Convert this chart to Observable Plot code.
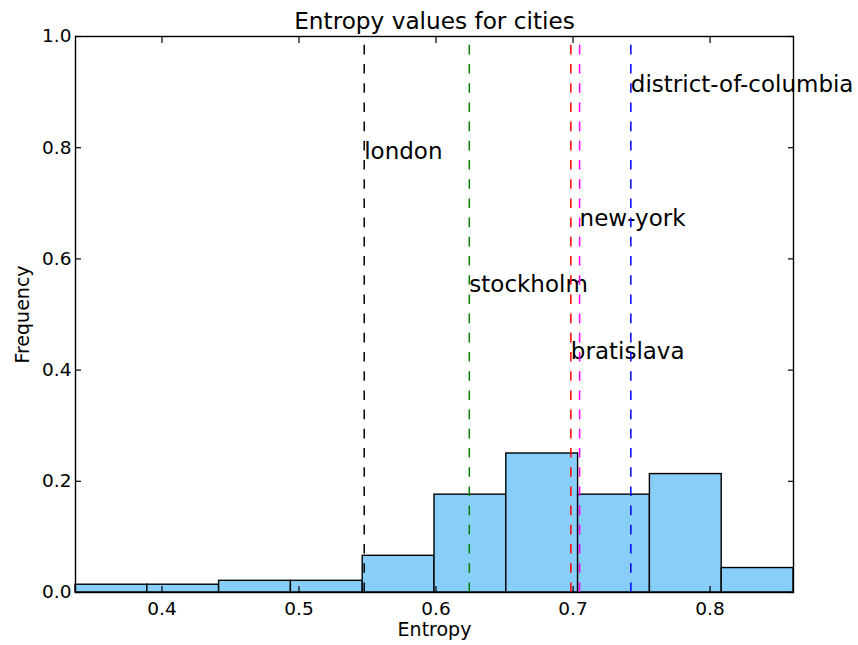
<!DOCTYPE html>
<html>
<head>
<meta charset="utf-8">
<script src="https://cdn.jsdelivr.net/npm/d3@7"></script>
<script src="https://cdn.jsdelivr.net/npm/@observablehq/plot@0.6"></script>
<style>
  html, body { margin: 0; padding: 0; background: #ffffff; }
  svg { display: block; }
</style>
</head>
<body>
<div id="chart"></div>
<script>
// Histogram of city entropy values (normalised frequencies)
const binEdges = [0.3369, 0.3893, 0.4417, 0.4941, 0.5465, 0.5989, 0.6513, 0.7037, 0.7561, 0.8085, 0.8609];
const binFrequency = [0.014, 0.014, 0.021, 0.021, 0.066, 0.176, 0.25, 0.176, 0.213, 0.044];

// Reference cities marked with dashed lines
const cityNames = ["london", "stockholm", "bratislava", "new-york", "district-of-columbia"];
const cityEntropy = [0.5476, 0.6243, 0.6984, 0.7048, 0.7422];
const cityColors = ["#000000", "#008000", "#ff0000", "#ff00ff", "#0000ff"];
const cityLabelY = [0.78, 0.54, 0.42, 0.66, 0.90];

// Axis ticks
const xTicks = [0.4, 0.5, 0.6, 0.7, 0.8];
const yTicks = [0.0, 0.2, 0.4, 0.6, 0.8, 1.0];

const titleText = "Entropy values for cities";
const xLabel = "Entropy";
const yLabel = "Frequency";

const bins = binFrequency.map((f, i) => ({x1: binEdges[i], x2: binEdges[i + 1], y: f}));
const cities = cityNames.map((name, i) => ({
  name, value: cityEntropy[i], color: cityColors[i], labelY: cityLabelY[i]
}));

const font = "DejaVu Sans";
const fmt = d3.format(".1f");

const chart = Plot.plot({
  width: 858,
  height: 645,
  marginTop: 36,
  marginBottom: 53,
  marginLeft: 75,
  marginRight: 65,
  style: {fontFamily: font, fontSize: "18px", background: "#ffffff", color: "#000000"},
  x: {domain: [binEdges[0], binEdges[binEdges.length - 1]], label: null},
  y: {domain: [0, 1], label: null},
  marks: [
    Plot.rectY(bins, {x1: "x1", x2: "x2", y: "y", fill: "#87cefa", stroke: "#000000", strokeWidth: 1.4}),
    Plot.text(cities, {
      x: "value", y: "labelY", text: "name",
      textAnchor: "start", lineAnchor: "bottom",
      fontSize: 23, fill: "#000000"
    }),
    Plot.ruleX(cities, {
      x: "value", y1: () => 0, y2: () => 1,
      stroke: "color", strokeWidth: 1.5, strokeDasharray: "9.6,9.6"
    }),
    Plot.frame({stroke: "#000000", strokeWidth: 1.4}),
    // inward ticks on all four sides
    Plot.axisX(xTicks, {anchor: "bottom", tickSize: -6, tickPadding: 15, tickFormat: fmt, fontSize: 18.5, strokeWidth: 1.2, label: null}),
    Plot.axisX(xTicks, {anchor: "top", tickSize: -6, tickFormat: () => "", strokeWidth: 1.2, label: null}),
    Plot.axisY(yTicks, {anchor: "left", tickSize: -6, tickPadding: 10, tickFormat: fmt, fontSize: 18.5, strokeWidth: 1.2, label: null}),
    Plot.axisY(yTicks, {anchor: "right", tickSize: -6, tickFormat: () => "", strokeWidth: 1.2, label: null}),
    // title and axis labels
    Plot.text([titleText], {text: d => d, frameAnchor: "top", textAnchor: "middle", dy: -7.5, lineAnchor: "bottom", fontSize: 23.2}),
    Plot.text([xLabel], {text: d => d, frameAnchor: "bottom", textAnchor: "middle", dy: 43, lineAnchor: "bottom", fontSize: 19}),
    Plot.text([yLabel], {text: d => d, frameAnchor: "left", textAnchor: "middle", dx: -46.5, rotate: -90, lineAnchor: "bottom", fontSize: 19})
  ]
});

document.getElementById("chart").appendChild(chart);
</script>
</body>
</html>
